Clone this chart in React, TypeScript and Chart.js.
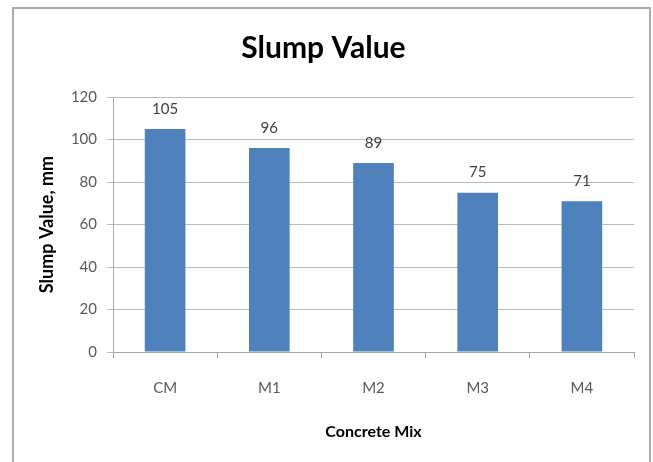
import React, { useEffect, useRef } from "react";
import { Chart, registerables } from "chart.js";

Chart.register(...registerables);

const categories = ["CM", "M1", "M2", "M3", "M4"];
const slumpValues = [105, 96, 89, 75, 71];
const yTicks = [0, 20, 40, 60, 80, 100, 120];

const FONT = "Lato, 'DejaVu Sans', sans-serif";

// Outer frame around the whole chart
const framePlugin = {
  id: "frame",
  beforeDraw(chart: any) {
    const { ctx, width, height } = chart;
    ctx.save();
    ctx.fillStyle = "#ffffff";
    ctx.fillRect(0, 0, width, height);
    ctx.strokeStyle = "#ababab";
    ctx.lineWidth = 2;
    ctx.strokeRect(13, 8, 637, height + 10);
    ctx.restore();
  },
};

// Value labels above each bar
const valueLabelPlugin = {
  id: "valueLabels",
  afterDatasetsDraw(chart: any) {
    const { ctx } = chart;
    const meta = chart.getDatasetMeta(0);
    const data = chart.data.datasets[0].data as number[];
    ctx.save();
    ctx.font = `15px ${FONT}`;
    ctx.fillStyle = "#404040";
    ctx.textAlign = "center";
    ctx.textBaseline = "middle";
    meta.data.forEach((bar: any, i: number) => {
      ctx.fillText(String(data[i]), bar.x, bar.y - 20);
    });
    ctx.restore();
  },
};

export default function App() {
  const canvasRef = useRef<HTMLCanvasElement | null>(null);

  useEffect(() => {
    if (!canvasRef.current) return;
    const chart = new Chart(canvasRef.current, {
      type: "bar",
      data: {
        labels: categories,
        datasets: [
          {
            label: "Slump Value",
            data: slumpValues,
            backgroundColor: "#4F81BD",
            borderWidth: 0,
            barPercentage: 0.39,
            categoryPercentage: 1,
          },
        ],
      },
      options: {
        responsive: false,
        animation: false,
        layout: { padding: { left: 13, right: 19, top: 0, bottom: 0 } },
        plugins: {
          legend: { display: false },
          tooltip: { enabled: false },
          title: {
            display: true,
            text: "Slump Value",
            color: "#000000",
            font: { family: FONT, size: 30, weight: "bold" },
            padding: { top: 30, bottom: 31 },
          },
        },
        scales: {
          x: {
            grid: {
              drawOnChartArea: false,
              drawTicks: true,
              tickLength: 6,
              color: "#a6a6a6",
            },
            border: { display: true, color: "#a6a6a6" },
            ticks: {
              color: "#595959",
              font: { family: FONT, size: 15 },
              padding: 21,
            },
            title: {
              display: true,
              text: "Concrete Mix",
              color: "#000000",
              font: { family: FONT, size: 16, weight: "bold" },
              padding: { top: 0, bottom: 21 },
            },
            afterFit(scale: any) {
              scale.height = 110;
            },
          },
          y: {
            min: 0,
            max: 120,
            afterBuildTicks(scale: any) {
              scale.ticks = yTicks.map((v) => ({ value: v }));
            },
            grid: {
              color: "#bababa",
              tickLength: 6,
            },
            border: { display: true, color: "#a6a6a6" },
            ticks: {
              color: "#595959",
              font: { family: FONT, size: 15 },
              padding: 10,
            },
            title: {
              display: true,
              text: "Slump Value, mm",
              color: "#000000",
              font: { family: FONT, size: 18, weight: "bold" },
              padding: { top: 23, bottom: 0 },
            },
            afterFit(scale: any) {
              scale.width = 100;
            },
          },
        },
      },
      plugins: [framePlugin, valueLabelPlugin],
    });
    return () => chart.destroy();
  }, []);

  return (
    <div style={{ position: "absolute", left: 0, top: 0, width: 653, height: 462 }}>
      <canvas ref={canvasRef} width={653} height={462} style={{ display: "block" }} />
    </div>
  );
}
